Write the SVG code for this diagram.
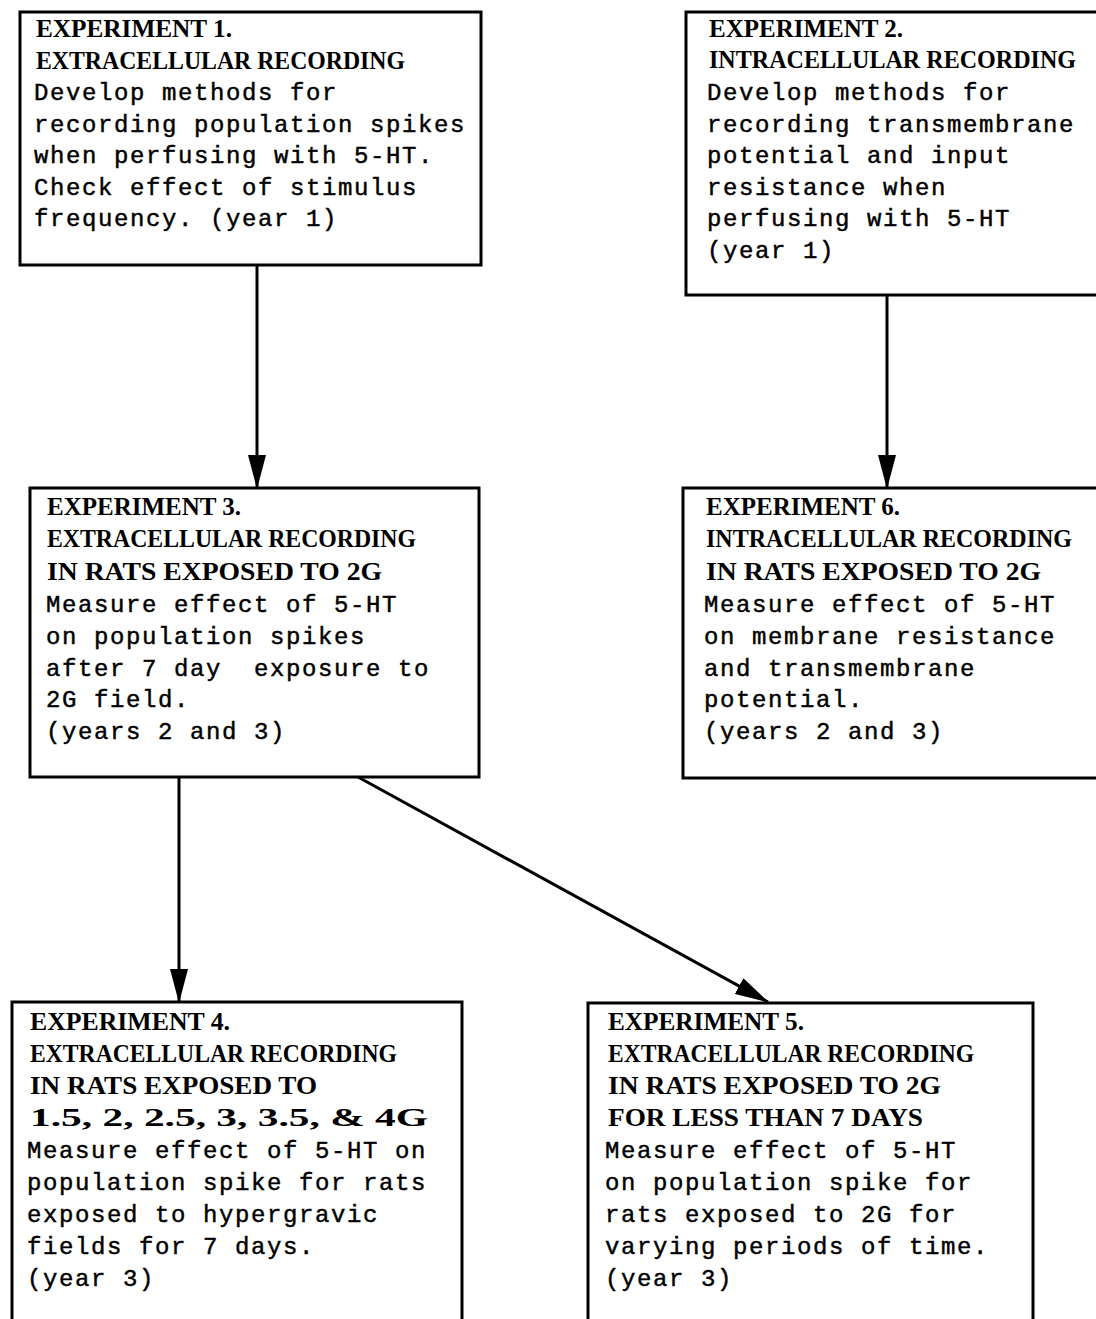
<svg xmlns="http://www.w3.org/2000/svg" width="1096" height="1319" viewBox="0 0 1096 1319">
<style>
.box{fill:#fff;stroke:#000;stroke-width:3}
.h{font-family:"Liberation Serif","Times New Roman",serif;font-weight:bold;font-size:26px;fill:#000}
.b{font-family:"Liberation Mono","Courier New",monospace;font-size:24px;letter-spacing:1.6px;fill:#000;stroke:#000;stroke-width:0.45}
.conn{stroke:#000;stroke-width:3;fill:none}
</style>
<defs>
<marker id="ah" viewBox="0 0 34 18" refX="33" refY="9" markerWidth="34" markerHeight="18" markerUnits="userSpaceOnUse" orient="auto">
<path d="M0,0 L34,9 L0,18 Z" fill="#000"/>
</marker>
</defs>
<rect width="1096" height="1319" fill="#fff"/>

<g id="exp1">
<rect class="box" x="20" y="12" width="461" height="253"/>
<text class="h" x="36" y="37" textLength="196" lengthAdjust="spacingAndGlyphs">EXPERIMENT 1.</text>
<text class="h" x="36" y="69" textLength="369" lengthAdjust="spacingAndGlyphs">EXTRACELLULAR RECORDING</text>
<text class="b" x="34" y="100">Develop methods for</text>
<text class="b" x="34" y="132">recording population spikes</text>
<text class="b" x="34" y="163">when perfusing with 5-HT.</text>
<text class="b" x="34" y="195">Check effect of stimulus</text>
<text class="b" x="34" y="226">frequency. (year 1)</text>
</g>

<g id="exp2">
<rect class="box" x="686" y="12" width="420" height="283"/>
<text class="h" x="709" y="37" textLength="194" lengthAdjust="spacingAndGlyphs">EXPERIMENT 2.</text>
<text class="h" x="709" y="68" textLength="367" lengthAdjust="spacingAndGlyphs">INTRACELLULAR RECORDING</text>
<text class="b" x="707" y="100">Develop methods for</text>
<text class="b" x="707" y="132">recording transmembrane</text>
<text class="b" x="707" y="163">potential and input</text>
<text class="b" x="707" y="195">resistance when</text>
<text class="b" x="707" y="226">perfusing with 5-HT</text>
<text class="b" x="707" y="258">(year 1)</text>
</g>

<g id="exp3">
<rect class="box" x="30" y="488" width="449" height="289"/>
<text class="h" x="47" y="515" textLength="194" lengthAdjust="spacingAndGlyphs">EXPERIMENT 3.</text>
<text class="h" x="47" y="547" textLength="369" lengthAdjust="spacingAndGlyphs">EXTRACELLULAR RECORDING</text>
<text class="h" x="47" y="580" textLength="335" lengthAdjust="spacingAndGlyphs">IN RATS EXPOSED TO 2G</text>
<text class="b" x="46" y="612">Measure effect of 5-HT</text>
<text class="b" x="46" y="644">on population spikes</text>
<text class="b" x="46" y="676" xml:space="preserve">after 7 day  exposure to</text>
<text class="b" x="46" y="707">2G field.</text>
<text class="b" x="46" y="739">(years 2 and 3)</text>
</g>

<g id="exp6">
<rect class="box" x="683" y="488" width="423" height="290"/>
<text class="h" x="706" y="515" textLength="194" lengthAdjust="spacingAndGlyphs">EXPERIMENT 6.</text>
<text class="h" x="706" y="547" textLength="366" lengthAdjust="spacingAndGlyphs">INTRACELLULAR RECORDING</text>
<text class="h" x="706" y="580" textLength="335" lengthAdjust="spacingAndGlyphs">IN RATS EXPOSED TO 2G</text>
<text class="b" x="704" y="612">Measure effect of 5-HT</text>
<text class="b" x="704" y="644">on membrane resistance</text>
<text class="b" x="704" y="676">and transmembrane</text>
<text class="b" x="704" y="707">potential.</text>
<text class="b" x="704" y="739">(years 2 and 3)</text>
</g>

<g id="exp4">
<rect class="box" x="12" y="1002" width="450" height="340"/>
<text class="h" x="30" y="1030" textLength="200" lengthAdjust="spacingAndGlyphs">EXPERIMENT 4.</text>
<text class="h" x="30" y="1062" textLength="367" lengthAdjust="spacingAndGlyphs">EXTRACELLULAR RECORDING</text>
<text class="h" x="30" y="1094" textLength="287" lengthAdjust="spacingAndGlyphs">IN RATS EXPOSED TO</text>
<text class="h" x="30" y="1126" textLength="398" lengthAdjust="spacingAndGlyphs">1.5, 2, 2.5, 3, 3.5, &amp; 4G</text>
<text class="b" x="27" y="1158">Measure effect of 5-HT on</text>
<text class="b" x="27" y="1190">population spike for rats</text>
<text class="b" x="27" y="1222">exposed to hypergravic</text>
<text class="b" x="27" y="1254">fields for 7 days.</text>
<text class="b" x="27" y="1286">(year 3)</text>
</g>

<g id="exp5">
<rect class="box" x="588" y="1003" width="445" height="340"/>
<text class="h" x="608" y="1030" textLength="196" lengthAdjust="spacingAndGlyphs">EXPERIMENT 5.</text>
<text class="h" x="608" y="1062" textLength="366" lengthAdjust="spacingAndGlyphs">EXTRACELLULAR RECORDING</text>
<text class="h" x="608" y="1094" textLength="333" lengthAdjust="spacingAndGlyphs">IN RATS EXPOSED TO 2G</text>
<text class="h" x="608" y="1126" textLength="315" lengthAdjust="spacingAndGlyphs">FOR LESS THAN 7 DAYS</text>
<text class="b" x="605" y="1158">Measure effect of 5-HT</text>
<text class="b" x="605" y="1190">on population spike for</text>
<text class="b" x="605" y="1222">rats exposed to 2G for</text>
<text class="b" x="605" y="1254">varying periods of time.</text>
<text class="b" x="605" y="1286">(year 3)</text>
</g>

<g id="connectors">
<line class="conn" x1="257" y1="265" x2="257" y2="488" marker-end="url(#ah)"/>
<line class="conn" x1="887" y1="295" x2="887" y2="488" marker-end="url(#ah)"/>
<line class="conn" x1="179" y1="777" x2="179" y2="1002" marker-end="url(#ah)"/>
<line class="conn" x1="358" y1="777" x2="768" y2="1002" marker-end="url(#ah)"/>
</g>
</svg>
